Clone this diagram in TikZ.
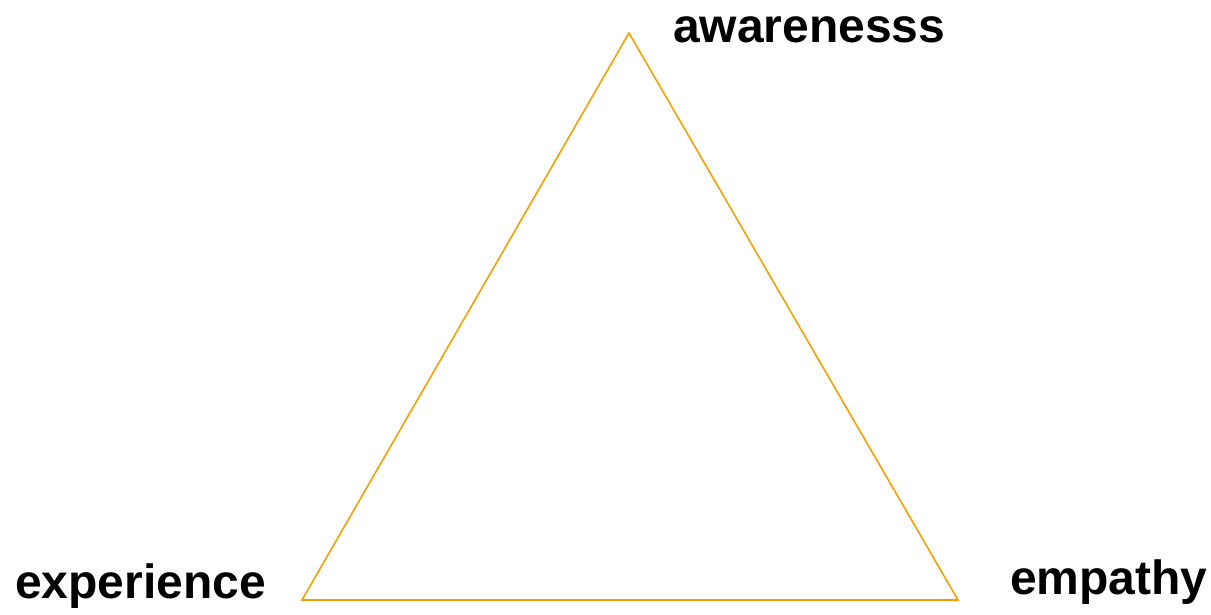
\documentclass[tikz,border=0pt]{standalone}
\usepackage{fontspec}
\setmainfont{Liberation Sans}
\usepackage{xcolor}
\usetikzlibrary{positioning}
\definecolor{naranja}{HTML}{F5A000}

\begin{document}
\begin{tikzpicture}[x=1pt,y=-1pt, lbl/.style={font=\fontsize{48}{48}\selectfont\bfseries,inner sep=0pt,anchor=base west}, tri/.style={draw=naranja,line width=1.6pt,line join=miter}]
\useasboundingbox (0,0) rectangle (1211,615);
\coordinate (top) at (629,33);
\coordinate (izq) at (302,600);
\coordinate (der) at (958,600);
\draw[tri] (top)--(der)--(izq)--cycle;
\node[lbl] (aw) at (673,43) {awarenesss};
\node[lbl] (ex) at (15,598) {experience};
\node[lbl] (em) at (1010,594) {empathy};
\end{tikzpicture}
\end{document}
